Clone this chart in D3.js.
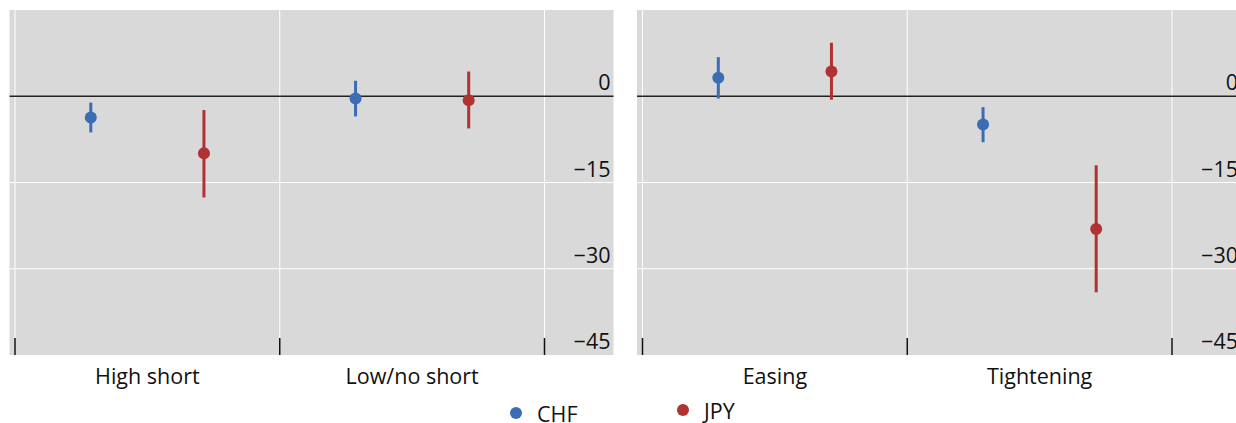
<!DOCTYPE html>
<html lang="en">
  <head>
    <meta charset="UTF-8" />
    <title>Chart</title>
    <style>
      body { margin: 0; background: #fff; }
      text { font-family: "Open Sans", "Noto Sans", sans-serif; fill: #111; }
    </style>
  </head>
  <body>
    <svg id="container" width="1236" height="423"></svg>
  </body>
  <script src="https://cdn.jsdelivr.net/npm/d3@7"></script>
  <script>
    // data
    const series = ["CHF", "JPY"];
    const colors = ["#3a6db4", "#b03232"];
    const panels = [
      { categories: ["High short", "Low/no short"] },
      { categories: ["Easing", "Tightening"] }
    ];
    // point estimates, [panel][category][series]
    const values = [
      [[-3.7, -9.9], [-0.4, -0.7]],
      [[3.2, 4.3], [-4.9, -23.1]]
    ];
    // error bars: low and high ends
    const lows = [
      [[-6.3, -17.6], [-3.5, -5.6]],
      [[-0.4, -0.6], [-8.0, -34.1]]
    ];
    const highs = [
      [[-1.1, -2.4], [2.7, 4.3]],
      [[6.8, 9.3], [-1.9, -12.0]]
    ];
    const yTicks = [0, -15, -30, -45];
    const yGrid = [-15, -30];

    const svg = d3.select("#container");
    const panelW = 604, plotTop = 10, plotBottom = 355;
    const fs = 21.5;
    const y = d3.scaleLinear().domain([-45, 15]).range([plotBottom, plotTop]);

    panels.forEach((p, pi) => {
      const x0 = 9.5 + pi * 627.5;
      const g = svg.append("g").attr("transform", `translate(${x0},0)`);

      g.append("rect")
        .attr("x", 0).attr("y", plotTop)
        .attr("width", panelW).attr("height", plotBottom - plotTop)
        .attr("fill", "#d9d9d9");

      const x = d3.scaleBand().domain(p.categories).range([5.5, 535]);
      const inner = d3.scalePoint().domain(series).range([0, x.bandwidth()]).padding(0.67);

      // vertical grid at band edges
      const edges = [x.range()[0], ...p.categories.map((c) => x(c) + x.bandwidth())];
      g.selectAll(".vgrid").data(edges).enter().append("line")
        .attr("x1", (d) => d).attr("x2", (d) => d)
        .attr("y1", plotTop).attr("y2", plotBottom)
        .attr("stroke", "#fff").attr("stroke-width", 1);

      // horizontal grid
      g.selectAll(".hgrid").data(yGrid).enter().append("line")
        .attr("x1", 0).attr("x2", panelW)
        .attr("y1", (d) => y(d)).attr("y2", (d) => y(d))
        .attr("stroke", "#fff").attr("stroke-width", 1);

      // zero line
      g.append("line")
        .attr("x1", 0).attr("x2", panelW)
        .attr("y1", y(0)).attr("y2", y(0))
        .attr("stroke", "#222").attr("stroke-width", 1.3);

      // x ticks at band edges
      g.selectAll(".xtick").data(edges).enter().append("line")
        .attr("x1", (d) => d).attr("x2", (d) => d)
        .attr("y1", plotBottom - 17).attr("y2", plotBottom)
        .attr("stroke", "#111").attr("stroke-width", 1.5);

      // y labels, right aligned inside the panel, above the gridline
      g.selectAll(".ylab").data(yTicks).enter().append("text")
        .attr("x", 601).attr("y", (d) => y(d) - 6)
        .attr("text-anchor", "end")
        .attr("font-size", fs)
        .text((d) => (d < 0 ? "\u2212" + Math.abs(d) : d));

      // category labels
      g.selectAll(".xlab").data(p.categories).enter().append("text")
        .attr("x", (d) => x(d) + x.bandwidth() / 2)
        .attr("y", 384)
        .attr("text-anchor", "middle")
        .attr("font-size", fs)
        .text((d) => d);

      // error bars and points
      p.categories.forEach((c, ci) => {
        series.forEach((s, si) => {
          const cx = x(c) + inner(s);
          g.append("line")
            .attr("x1", cx).attr("x2", cx)
            .attr("y1", y(lows[pi][ci][si])).attr("y2", y(highs[pi][ci][si]))
            .attr("stroke", colors[si]).attr("stroke-width", 3);
          g.append("circle")
            .attr("cx", cx).attr("cy", y(values[pi][ci][si]))
            .attr("r", 6).attr("fill", colors[si]);
        });
      });
    });

    // legend
    const legendX = [516, 683];
    const legendY = [413, 410];
    series.forEach((s, i) => {
      svg.append("circle")
        .attr("cx", legendX[i]).attr("cy", legendY[i])
        .attr("r", 6).attr("fill", colors[i]);
      svg.append("text")
        .attr("x", legendX[i] + 21).attr("y", legendY[i] + 9)
        .attr("font-size", fs)
        .text(s);
    });
  </script>
</html>
